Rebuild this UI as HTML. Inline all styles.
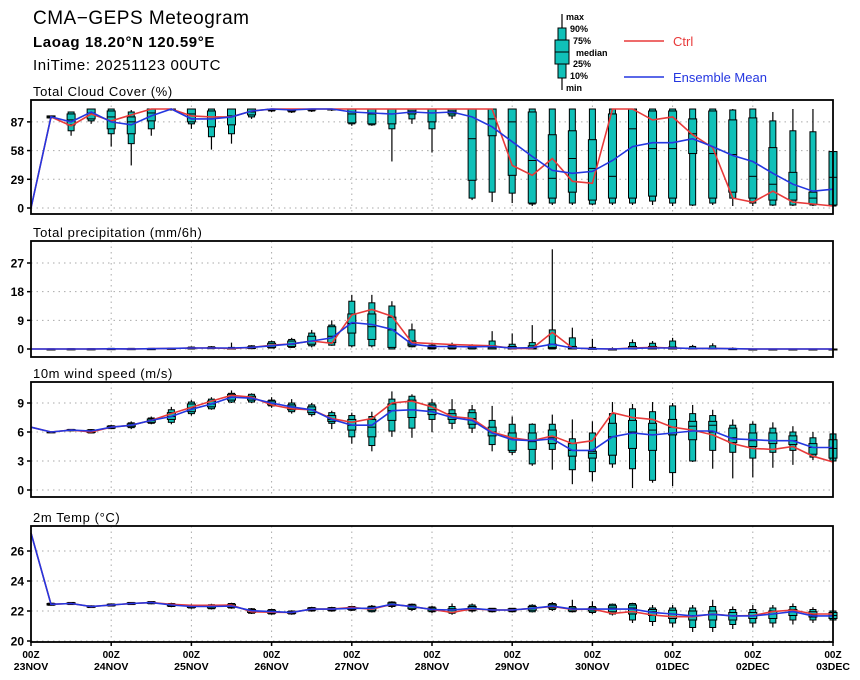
<!DOCTYPE html>
<html><head><meta charset="utf-8"><style>
body{margin:0;background:#fff;}
svg{display:block;font-family:"Liberation Sans",sans-serif;}
.t{font-weight:bold;fill:#000;}
</style></head><body>
<svg id="c" width="860" height="680" viewBox="0 0 860 680">
<text x="33" y="24" font-size="19" letter-spacing="0.5">CMA−GEPS Meteogram</text>
<text x="33" y="47" font-size="15" class="t" font-weight="normal" letter-spacing="0.6">Laoag 18.20°N 120.59°E</text>
<text x="33" y="70" font-size="15" letter-spacing="0.6">IniTime: 20251123 00UTC</text>
<g>
<line x1="562" y1="14" x2="562" y2="90" stroke="#000" stroke-width="1.2"/>
<rect x="558" y="28" width="8" height="50" fill="#10c0b8" stroke="#000"/>
<rect x="555" y="40" width="14" height="24" fill="#10c0b8" stroke="#000"/>
<line x1="555" y1="52" x2="569" y2="52" stroke="#000"/>
<g font-size="9" class="t">
<text x="566" y="20">max</text><text x="570" y="32">90%</text><text x="573" y="44">75%</text>
<text x="576" y="56">median</text><text x="573" y="67">25%</text><text x="570" y="79">10%</text><text x="566" y="91">min</text>
</g>
<line x1="624" y1="41" x2="664" y2="41" stroke="#e83a3a" stroke-width="1.5"/>
<text x="673" y="46" font-size="13" fill="#e83a3a">Ctrl</text>
<line x1="624" y1="77" x2="664" y2="77" stroke="#2436e0" stroke-width="1.5"/>
<text x="673" y="82" font-size="13" fill="#2436e0">Ensemble Mean</text>
</g>
</svg>
<script>
// ---- data ----
const steps = 41;
const dayLabels = ["23NOV","24NOV","25NOV","26NOV","27NOV","28NOV","29NOV","30NOV","01DEC","02DEC","03DEC"];

const cloudTicks = [0,29,58,87];
const cloudMean = [0,92,87,97,87,84,93,100,90,90,92,98,100,99,100,100,97,96,95,97,96,97,92,82,67,52,38,35,37,48,62,66,66,70,62,53,47,35,24,17,19];
const cloudCtrl = [0,92,83,95,88,94,100,100,93,92,92,98,100,100,100,100,100,100,100,100,100,100,100,100,43,33,50,27,25,100,100,89,92,74,61,10,6,17,6,4,2];
const cloudMin = [null,90,73,85,62,43,73,99,80,59,65,90,97,96,97,98,83,83,47,85,56,90,8,6,5,2,3,3,3,3,3,3,2,2,3,2,2,2,2,2,2];
const cloudP10 = [null,91,78,88,75,65,80,99,85,72,75,92,98,97,98,99,85,84,80,90,80,93,10,16,15,4,5,5,4,5,5,7,5,3,5,10,5,3,3,3,2];
const cloudP25 = [null,91,84,90,80,75,88,100,87,82,84,94,99,98,99,99,86,85,85,95,87,95,28,73,33,5,10,16,8,10,10,12,10,55,10,16,10,8,8,4,3];
const cloudMed = [null,92,89,96,92,87,96,100,95,90,93,97,100,99,100,100,95,95,95,98,96,98,70,90,87,48,30,50,40,32,80,60,60,75,55,54,32,24,16,10,31];
const cloudP75 = [null,93,95,100,98,92,100,100,100,98,100,100,100,100,100,100,100,100,100,100,100,100,100,100,100,97,74,78,69,95,100,98,98,90,98,89,91,61,36,16,57];
const cloudP90 = [null,93,97,100,100,97,100,100,100,100,100,100,100,100,100,100,100,100,100,100,100,100,100,100,100,100,100,100,100,100,100,100,100,100,100,99,100,88,78,77,57];
const cloudMax = [null,93,97,100,100,99,100,100,100,100,100,100,100,100,100,100,100,100,100,100,100,100,100,100,100,100,100,100,100,100,100,100,100,100,100,100,100,97,100,100,57];

const precTicks = [0,9,18,27];
const precMean = [0,0,0,0,0.05,0,0.1,0.2,0.3,0.3,0.3,0.5,1.0,1.6,2.5,3.5,8.3,7.7,6.2,1.5,0.8,0.8,0.7,0.8,0.3,0.4,1.5,0.3,0.1,0,0.2,0.3,0.3,0.2,0.2,0.1,0,0,0,0,0];
const precCtrl = [0,0,0,0,0.05,0,0.1,0.2,0.3,0.3,0.2,0.5,1.2,1.6,2.5,1.8,10.7,12.4,10.3,2.0,1.7,1.4,1.2,1.0,0.2,0.2,5.2,0.3,0.1,0,0.3,0.5,0.3,0.2,0.2,0.1,0,0,0,0,0];
const precMin = [null,0,0,0,0,0,0,0,0,0,0,0,0.2,0.3,0.5,1.0,0.5,0.5,0,0.5,0,0,0,0,0,0,0,0,0,0,0,0,0,0,0,0,0,0,0,0,0];
const precP10 = [null,0,0,0,0,0,0,0,0,0.1,0,0.1,0.3,0.5,1,1.2,1,1,0,0.7,0,0,0,0,0,0,0,0,0,0,0,0,0,0,0,0,0,0,0,0,0];
const precP25 = [null,0,0,0,0,0,0,0,0.1,0.2,0,0.2,0.5,0.8,1.5,2,5,3,0.5,1,0.2,0.2,0.1,0,0,0,0.2,0,0,0,0,0,0,0,0,0,0,0,0,0,0];
const precMed = [null,0,0,0,0,0,0,0.1,0.2,0.3,0.1,0.4,1.0,1.5,2.5,4,8,7,6,1.5,0.5,0.6,0.5,0.4,0.2,0.2,0.5,0.2,0,0,0.2,0.2,0.2,0.1,0.1,0,0,0,0,0,0];
const precP75 = [null,0,0.05,0.05,0.1,0.1,0.1,0.2,0.4,0.5,0.3,0.7,1.8,2.5,4,7,11,11,10,2.5,1.0,1.0,0.8,1.0,0.8,1.0,1.5,0.8,0.2,0,0.8,0.8,0.6,0.3,0.3,0.1,0,0,0,0,0];
const precP90 = [null,0.05,0.1,0.1,0.2,0.2,0.2,0.3,0.6,0.7,0.5,1,2.3,3,5,7.5,15,14.5,13.5,6,1.2,1.2,1.0,2.5,1.5,2,6,3.5,0.5,0.1,2,1.8,2.5,0.8,1,0.2,0,0,0,0,0];
const precMax = [null,0.1,0.1,0.15,0.3,0.3,0.3,0.4,0.8,0.9,2,1.2,2.6,3.5,6,9,17,17,15,8,2,2,1.5,5.6,4.9,7.5,31.3,6.7,3.2,0.5,3,2.5,3.5,1.3,1.8,0.5,0.1,0,0,0,0];

const windTicks = [0,3,6,9];
const windMean = [6.5,6.0,6.2,6.1,6.5,6.7,7.2,7.6,8.35,8.9,9.6,9.5,9.0,8.6,8.3,7.3,6.7,6.7,8.2,8.3,8.1,7.5,7.2,5.9,5.2,5.1,5.3,4.1,4.1,5.5,5.9,5.7,5.9,6.1,6.1,5.3,5.2,5.1,5.1,4.4,4.4];
const windCtrl = [6.5,6.0,6.2,6.0,6.5,6.7,7.2,7.9,8.55,9.2,9.8,9.6,8.8,8.4,8.3,7.4,7.0,7.4,9.0,9.2,8.6,7.6,7.4,6.0,5.4,5.1,5.6,4.8,5.1,8.0,7.5,7.3,6.5,6.2,5.7,4.8,4.3,4.2,4.5,3.5,2.9];
const windMin = [null,5.95,6.1,5.85,6.3,6.3,6.8,6.8,7.7,8.3,9.0,9.0,8.5,7.9,7.6,6.3,4.8,4.0,5.5,5.4,6.0,6.3,5.9,4.0,3.6,2.5,2.1,0.6,0.9,2.3,0.2,0.75,0.4,2.9,2.2,1.2,1.3,2.3,2.6,3.1,2.9];
const windP10 = [null,5.97,6.12,5.9,6.35,6.45,6.9,7.0,7.9,8.4,9.1,9.1,8.7,8.1,7.8,6.9,5.5,4.6,6.1,6.4,7.3,6.9,6.4,4.7,3.9,2.7,4.2,2.1,1.9,2.7,2.2,1.0,1.8,3.0,4.1,3.9,3.3,3.9,4.1,3.4,3.0];
const windP25 = [null,5.98,6.15,5.95,6.4,6.55,7.0,7.3,8.1,8.6,9.3,9.3,8.8,8.3,8.0,7.1,6.2,5.5,7.2,7.5,7.8,7.3,6.8,5.6,4.1,4.2,4.8,3.5,3.3,3.6,4.3,4.1,5.7,5.2,6.0,4.9,4.5,4.8,4.7,3.7,3.3];
const windMed = [null,6.0,6.2,6.1,6.5,6.7,7.2,7.6,8.5,8.9,9.6,9.5,9.0,8.6,8.3,7.3,6.7,6.5,8.2,8.3,8.3,7.6,7.4,6.0,5.3,5.0,5.4,4.1,3.8,5.5,6.0,6.2,6.5,6.6,6.7,5.4,5.1,5.1,5.1,4.4,4.3];
const windP75 = [null,6.02,6.25,6.2,6.6,6.85,7.35,8.0,8.9,9.2,9.9,9.7,9.2,8.8,8.6,7.7,7.3,7.3,8.9,9.3,8.8,7.9,8.0,6.5,5.9,5.9,6.2,4.8,4.0,6.9,7.2,6.9,7.3,7.1,7.1,6.4,5.9,5.9,5.6,4.8,5.2];
const windP90 = [null,6.03,6.27,6.25,6.65,6.95,7.45,8.3,9.1,9.4,10.0,9.9,9.3,9.0,8.8,8.0,7.7,7.6,9.4,9.7,9.0,8.3,8.3,7.2,6.8,6.8,6.8,5.3,5.9,7.9,8.4,8.1,8.7,7.9,7.7,6.7,6.8,6.4,6.0,5.4,5.8];
const windMax = [null,6.05,6.3,6.3,6.75,7.1,7.6,8.6,9.3,9.6,10.3,10.0,9.6,9.4,9.0,8.2,8.0,8.1,10.2,9.9,9.4,9.4,8.8,8.7,7.6,6.9,7.8,7.3,7.1,9.1,8.9,9.1,9.0,8.8,8.3,7.3,7.1,7.0,6.6,6.0,6.0];

const tempTicks = [20,22,24,26];
const tempMean = [27.2,22.45,22.5,22.29,22.4,22.5,22.56,22.4,22.3,22.3,22.33,22.02,21.96,21.91,22.13,22.13,22.18,22.18,22.45,22.29,22.1,22.07,22.18,22.07,22.07,22.18,22.33,22.13,22.13,22.13,22.13,21.91,21.8,21.67,21.78,21.67,21.67,21.8,21.96,21.67,21.67];
const tempCtrl = [27.2,22.45,22.5,22.29,22.4,22.5,22.56,22.45,22.38,22.38,22.4,21.95,21.92,21.91,22.13,22.13,22.24,22.12,22.45,22.29,22.1,21.9,22.15,22.07,22.07,22.18,22.3,22.1,22.13,21.84,21.96,21.73,21.62,21.62,21.8,21.67,21.7,21.96,22.07,21.8,21.8];
const tempMin = [null,22.35,22.4,22.2,22.3,22.4,22.45,22.25,22.15,22.1,22.15,21.8,21.75,21.75,21.95,21.95,22.0,21.9,22.2,22.0,21.85,21.75,21.9,21.9,21.9,21.9,22.0,21.9,21.8,21.7,21.2,21.0,20.9,20.6,20.6,20.8,20.9,20.9,21.1,21.2,21.2];
const tempP10 = [null,22.38,22.43,22.23,22.33,22.43,22.48,22.3,22.2,22.15,22.2,21.85,21.8,21.8,22.0,22.0,22.05,21.95,22.3,22.1,21.95,21.85,22.0,21.95,21.95,21.95,22.1,21.95,21.9,21.8,21.4,21.3,21.2,20.9,20.9,21.1,21.2,21.2,21.4,21.4,21.4];
const tempP25 = [null,22.4,22.45,22.25,22.35,22.45,22.5,22.33,22.23,22.2,22.25,21.9,21.85,21.84,22.05,22.05,22.1,22.02,22.35,22.15,22.0,21.92,22.05,22.0,22.0,22.05,22.2,22.0,22.0,21.95,21.8,21.7,21.5,21.4,21.4,21.4,21.5,21.5,21.7,21.6,21.5];
const tempMed = [null,22.45,22.5,22.29,22.4,22.5,22.56,22.4,22.3,22.3,22.35,22.0,21.95,21.9,22.12,22.12,22.18,22.15,22.45,22.28,22.1,22.05,22.2,22.07,22.07,22.2,22.35,22.12,22.1,22.2,22.2,21.95,21.8,21.7,21.75,21.7,21.7,21.8,21.95,21.75,21.7];
const tempP75 = [null,22.5,22.55,22.33,22.45,22.55,22.6,22.47,22.37,22.38,22.45,22.1,22.05,21.97,22.2,22.2,22.25,22.28,22.55,22.4,22.2,22.15,22.3,22.15,22.15,22.3,22.45,22.2,22.2,22.35,22.4,22.1,22.05,22.0,22.0,21.9,21.9,22.0,22.1,21.95,21.9];
const tempP90 = [null,22.52,22.57,22.35,22.47,22.57,22.63,22.5,22.4,22.42,22.5,22.15,22.1,22.0,22.23,22.23,22.3,22.32,22.6,22.45,22.27,22.3,22.4,22.18,22.18,22.38,22.5,22.3,22.3,22.45,22.5,22.2,22.2,22.2,22.3,22.1,22.1,22.2,22.3,22.1,22.0];
const tempMax = [null,22.55,22.6,22.38,22.5,22.6,22.66,22.55,22.45,22.48,22.55,22.2,22.15,22.05,22.28,22.28,22.35,22.4,22.65,22.5,22.35,22.5,22.5,22.2,22.2,22.45,22.6,22.75,22.65,22.5,22.55,22.4,22.4,22.4,22.75,22.3,22.4,22.4,22.5,22.25,22.1];

// ---- drawing ----
const NS = "http://www.w3.org/2000/svg";
const svg = document.getElementById("c");
const X0 = 31, X1 = 833;
function xs(i){ return X0 + i * (X1 - X0) / (steps - 1); }
function mk(tag, attrs, parent){
  const e = document.createElementNS(NS, tag);
  for (const k in attrs) e.setAttribute(k, attrs[k]);
  (parent || svg).appendChild(e);
  return e;
}
const panels = [
  {key:"cloud", title:"Total Cloud Cover (%)", top:100, bot:214, v0:0, y0:208, v1:100, y1:109, ticks:cloudTicks,
   mean:cloudMean, ctrl:cloudCtrl, mn:cloudMin, p10:cloudP10, p25:cloudP25, med:cloudMed, p75:cloudP75, p90:cloudP90, mx:cloudMax},
  {key:"precip", title:"Total precipitation (mm/6h)", top:241, bot:357, v0:0, y0:349, v1:27, y1:263, ticks:precTicks,
   mean:precMean, ctrl:precCtrl, mn:precMin, p10:precP10, p25:precP25, med:precMed, p75:precP75, p90:precP90, mx:precMax},
  {key:"wind", title:"10m wind speed (m/s)", top:382, bot:497, v0:0, y0:490, v1:9, y1:403, ticks:windTicks,
   mean:windMean, ctrl:windCtrl, mn:windMin, p10:windP10, p25:windP25, med:windMed, p75:windP75, p90:windP90, mx:windMax},
  {key:"temp", title:"2m Temp (°C)", top:526, bot:642, v0:20, y0:641, v1:26, y1:551, ticks:tempTicks,
   mean:tempMean, ctrl:tempCtrl, mn:tempMin, p10:tempP10, p25:tempP25, med:tempMed, p75:tempP75, p90:tempP90, mx:tempMax}
];
panels.forEach(p => {
  const ys = v => p.y0 + (v - p.v0) * (p.y1 - p.y0) / (p.v1 - p.v0);
  const g = mk("g", {});
  
  
  const tt = mk("text", {x:33, y:p.top - 4, "font-size":13, "letter-spacing":"0.6"}, g);
  tt.textContent = p.title;
  
  
  // grid
  for (let d = 1; d < dayLabels.length - 1; d++) {
    const gx = xs(d * 4);
    const gl = mk("line", {x1:gx, x2:gx, y1:p.top, y2:p.bot, stroke:"#aaa", "stroke-dasharray":"1.5 4"}, g);
    
    
  }
  p.ticks.forEach(t => {
    const y = ys(t);
    const hl = mk("line", {x1:X0, x2:X1, y1:y, y2:y, stroke:"#aaa", "stroke-dasharray":"1.5 4"}, g);
    
    
    mk("line", {x1:X0-4, x2:X0, y1:y, y2:y, stroke:"#000", "stroke-width":1.5}, g);
    const tl = mk("text", {x:X0-7, y:y+4.5, "font-size":12, "font-weight":"bold", "text-anchor":"end"}, g);
    tl.textContent = t;
    
    
  });
  // boxes
  for (let i = 1; i < steps; i++) {
    if (p.mn[i] === null) continue;
    const x = xs(i);
    const bg = mk("g", {}, g);
    
    
    mk("line", {x1:x, x2:x, y1:ys(p.mn[i]), y2:ys(p.mx[i]), stroke:"#000", "stroke-width":1.2}, bg);
    const o1 = ys(p.p90[i]), o2 = ys(p.p10[i]);
    mk("rect", {x:x-3, y:o1, width:6, height:Math.max(o2-o1,1), fill:"#10c0b8", stroke:"#000", "stroke-width":1}, bg);
    const q1 = ys(p.p75[i]), q2 = ys(p.p25[i]);
    mk("rect", {x:x-4, y:q1, width:8, height:Math.max(q2-q1,1), fill:"#10c0b8", stroke:"#000", "stroke-width":1}, bg);
    const m = ys(p.med[i]);
    mk("line", {x1:x-4, x2:x+4, y1:m, y2:m, stroke:"#000", "stroke-width":1}, bg);
  }
  // lines
  const path = arr => arr.map((v,i) => (i ? "L" : "M") + xs(i).toFixed(1) + "," + ys(v).toFixed(1)).join("");
  const cl = mk("path", {d:path(p.ctrl), fill:"none", stroke:"#e83a3a", "stroke-width":1.6}, g);
  
  
  const ml = mk("path", {d:path(p.mean), fill:"none", stroke:"#2436e0", "stroke-width":1.6}, g);
  
  
  // frame
  const fr = mk("rect", {x:X0, y:p.top, width:X1-X0, height:p.bot-p.top, fill:"none", stroke:"#000", "stroke-width":1.8}, g);
  
  
});
// x axis labels under last panel
dayLabels.forEach((lab, d) => {
  const x = xs(d * 4);
  mk("line", {x1:x, x2:x, y1:642, y2:646, stroke:"#000", "stroke-width":1.5});
  const t1 = mk("text", {x:x, y:658, "font-size":10, "font-weight":"bold", "text-anchor":"middle"});
  t1.textContent = "00Z";
  
  
  const t2 = mk("text", {x:x, y:670, "font-size":10.5, "font-weight":"bold", "text-anchor":"middle"});
  t2.textContent = lab;
  
  
});
</script>
</body></html>
